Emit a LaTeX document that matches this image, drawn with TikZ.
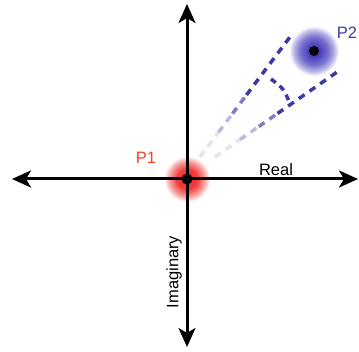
\documentclass[tikz,border=0pt]{standalone}
\usepackage{fontspec}
\setmainfont{Liberation Sans}
\usetikzlibrary{arrows.meta,calc}
\definecolor{dashblue}{RGB}{62,58,165}
\definecolor{blobblue}{RGB}{75,65,190}
\definecolor{blobred}{RGB}{240,40,40}
\definecolor{labelred}{RGB}{240,70,40}
\pgfdeclareradialshading{blueblob}{\pgfpoint{0bp}{0bp}}{color(0bp)=(blobblue!80!black);color(6bp)=(blobblue);color(14bp)=(blobblue!75);color(20bp)=(blobblue!40);color(25bp)=(white);color(50bp)=(white)}
\pgfdeclareradialshading{redblob}{\pgfpoint{0bp}{0bp}}{color(0bp)=(blobred);color(11bp)=(blobred!90);color(19bp)=(blobred!45);color(25bp)=(white);color(50bp)=(white)}
\tikzset{
  axis/.style={line width=3pt, black, -{Stealth[length=19pt,width=17pt,inset=5pt]}},
  dashln/.style={line width=3.5pt, dashblue, dash pattern=on 7pt off 6pt},
  lbl/.style={font=\fontsize{16.5}{16.5}\selectfont, inner sep=0pt},
}
\begin{document}
\begin{tikzpicture}[x=1pt,y=-1pt]
\useasboundingbox (0,0) rectangle (359,352);
% coordinates
\coordinate (O) at (187,179);
\coordinate (L) at (12,179);
\coordinate (R) at (358,179);
\coordinate (T) at (187,4);
\coordinate (B) at (187,347);
\coordinate (P2) at (314,51);
% blobs
\shade[shading=redblob] (O) circle (23);
\shade[shading=blueblob] (P2) circle (25);
\fill[black] (P2) circle (5);
% dashed lines with fading
\coordinate (U0) at (200,157);
\coordinate (U1) at (293,33);
\coordinate (W0) at (215,157);
\coordinate (W1) at (340,70);
\foreach \a/\b/\o in {0/0.2/0.15, 0.2/0.35/0.35, 0.35/0.5/0.65, 0.5/1/1}{
  \draw[dashln, opacity=\o] ($(U0)!\a!(U1)$) -- ($(U0)!\b!(U1)$);
  \draw[dashln, opacity=\o] ($(W0)!\a!(W1)$) -- ($(W0)!\b!(W1)$);
}
% angle marker
\coordinate (A0) at (271,79);
\coordinate (A1) at (290,104);
\draw[dashln, dash pattern=on 6pt off 5pt] (A0) .. controls (284,89) .. (A1);
% axes
\draw[axis] (O) -- (L);
\draw[axis] (O) -- (R);
\draw[axis] (O) -- (T);
\draw[axis] (O) -- (B);
\fill[black] (O) circle (5.5);
% labels
\node[lbl, text=labelred] (p1) at (146,158) {P1};
\node[lbl, text=dashblue] (p2) at (347,33) {P2};
\node[lbl] (re) at (276,170) {Real};
\node[lbl, rotate=90] (im) at (174,272) {Imaginary};
\end{tikzpicture}
\end{document}
